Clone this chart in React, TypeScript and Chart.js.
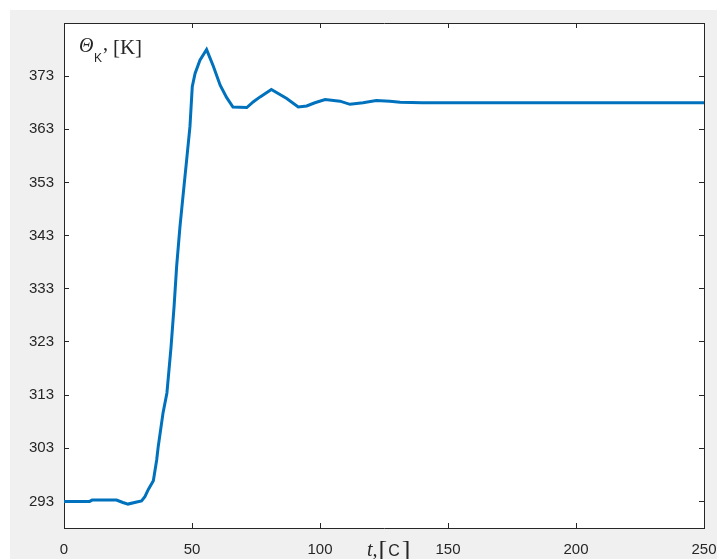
import React, { useEffect, useRef } from "react";
import { Chart, registerables } from "chart.js";

Chart.register(...registerables);

const tValues = [
  0, 10, 11, 20.5, 23, 25, 28.4, 30.3, 31.6, 33, 34.9, 36.2, 36.8, 38.7, 40.2,
  41.8, 43, 44, 45.3, 46.6, 47.9, 49.2, 50.1, 51.2, 53.1, 55.7, 58.3, 61, 63.5,
  66, 71.4, 74, 76.6, 81, 87, 91.5, 94.8, 98, 102, 107.8, 111.7, 116.8, 122,
  127.3, 131.3, 140, 150, 200, 250,
];
const thetaValues = [
  293, 293, 293.25, 293.25, 292.8, 292.5, 292.9, 293.1, 293.9, 295.3, 296.9,
  300.8, 303.3, 309.7, 313.4, 322, 329.7, 337.2, 344.7, 351, 357.2, 363.5, 371,
  373.5, 376, 378, 374.9, 371.3, 369, 367.2, 367.1, 368.2, 369.1, 370.5, 368.8,
  367.2, 367.4, 368, 368.6, 368.3, 367.7, 368, 368.4, 368.3, 368.1, 368, 368,
  368, 368,
];
const xTickValues = [0, 50, 100, 150, 200, 250];
const yTickValues = [293, 303, 313, 323, 333, 343, 353, 363, 373];

const AXIS = "#262626";
const LINE = "#0072BD";

const bgPlugin = {
  id: "plotBg",
  beforeDraw(chart: any) {
    const { ctx, chartArea: a } = chart;
    ctx.save();
    ctx.fillStyle = "#ffffff";
    ctx.fillRect(a.left, a.top, a.right - a.left, a.bottom - a.top);
    ctx.restore();
  },
};

const labelPlugin = {
  id: "axisLabels",
  afterDraw(chart: any) {
    const { ctx, chartArea: a } = chart;
    ctx.save();
    ctx.fillStyle = AXIS;
    ctx.textAlign = "left";
    ctx.textBaseline = "alphabetic";
    // y label: Θ_K, [K]
    let x = a.left + 15;
    const yb = a.top + 29;
    ctx.font = "italic 20px 'Liberation Serif'";
    ctx.fillText("Θ", x, yb);
    x += ctx.measureText("Θ").width + 0.5;
    ctx.font = "12px 'Liberation Sans'";
    ctx.fillText("K", x, yb + 10);
    x += ctx.measureText("K").width + 1;
    ctx.font = "20px 'Liberation Serif'";
    ctx.fillText(",", x, yb - 2);
    x += ctx.measureText(", ").width;
    ctx.font = "21px 'Liberation Serif'";
    ctx.fillText("[K]", x, yb + 2);

    // x label: t, [C]
    let tx = a.left + 303;
    const tb = a.bottom + 28;
    ctx.font = "italic 20px 'Liberation Serif'";
    ctx.fillText("t,", tx, tb);
    tx += ctx.measureText("t,").width + 1;
    ctx.font = "26px 'Liberation Serif'";
    ctx.fillText("[", tx, tb + 2);
    tx += ctx.measureText("[").width + 1;
    ctx.font = "16px 'Liberation Sans'";
    ctx.fillText("C", tx, tb);
    tx += ctx.measureText("C").width + 2;
    ctx.font = "26px 'Liberation Serif'";
    ctx.fillText("]", tx, tb + 2);
    ctx.restore();
  },
};

const zeroPad = (s: any) => {
  s.paddingLeft = 0;
  s.paddingRight = 0;
  s.paddingTop = 0;
  s.paddingBottom = 0;
};

export default function App() {
  const ref = useRef<HTMLCanvasElement | null>(null);

  useEffect(() => {
    if (!ref.current) return;
    const points = tValues.map((t, i) => ({ x: t, y: thetaValues[i] }));
    const tickFont = { family: "'Liberation Sans', Arial, sans-serif", size: 15 };
    const grid = {
      display: true,
      drawOnChartArea: false,
      drawTicks: true,
      tickLength: -5,
      tickColor: AXIS,
      color: "rgba(0,0,0,0)",
    };
    const border = { display: true, color: AXIS, width: 1 };
    const chart = new Chart(ref.current, {
      type: "line",
      data: {
        datasets: [
          {
            data: points,
            borderColor: LINE,
            borderWidth: 3,
            pointRadius: 0,
            tension: 0,
            fill: false,
          },
        ],
      },
      options: {
        responsive: false,
        animation: false,
        devicePixelRatio: 1,
        layout: { padding: { top: 13, right: 13, left: 0, bottom: 0 } },
        plugins: {
          legend: { display: false },
          tooltip: { enabled: false },
          title: { display: false },
        },
        scales: {
          x: {
            type: "linear",
            position: "bottom",
            min: 0,
            max: 250,
            afterBuildTicks: (s: any) => {
              s.ticks = xTickValues.map((v) => ({ value: v }));
            },
            afterFit: (s: any) => {
              s.height = 31;
              zeroPad(s);
            },
            ticks: { color: AXIS, font: tickFont, padding: 18, maxRotation: 0 },
            grid,
            border,
          },
          x2: {
            type: "linear",
            position: "top",
            min: 0,
            max: 250,
            afterBuildTicks: (s: any) => {
              s.ticks = xTickValues.map((v) => ({ value: v }));
            },
            afterFit: (s: any) => {
              s.height = 0;
              zeroPad(s);
            },
            ticks: { display: false },
            grid,
            border,
          },
          y: {
            type: "linear",
            position: "left",
            min: 288,
            max: 383,
            afterBuildTicks: (s: any) => {
              s.ticks = yTickValues.map((v) => ({ value: v }));
            },
            afterFit: (s: any) => {
              s.width = 54;
              zeroPad(s);
            },
            ticks: { color: AXIS, font: tickFont, padding: 15 },
            grid,
            border,
          },
          y2: {
            type: "linear",
            position: "right",
            min: 288,
            max: 383,
            afterBuildTicks: (s: any) => {
              s.ticks = yTickValues.map((v) => ({ value: v }));
            },
            afterFit: (s: any) => {
              s.width = 0;
              zeroPad(s);
            },
            ticks: { display: false },
            grid,
            border,
          },
        },
      },
      plugins: [bgPlugin, labelPlugin],
    } as any);
    return () => chart.destroy();
  }, []);

  return (
    <div
      style={{
        position: "absolute",
        left: 10,
        top: 10,
        width: 707,
        height: 549,
        background: "#f0f0f0",
        overflow: "hidden",
      }}
    >
      <canvas
        ref={ref}
        width={707}
        height={549}
        style={{ width: 707, height: 549, display: "block" }}
      />
    </div>
  );
}
